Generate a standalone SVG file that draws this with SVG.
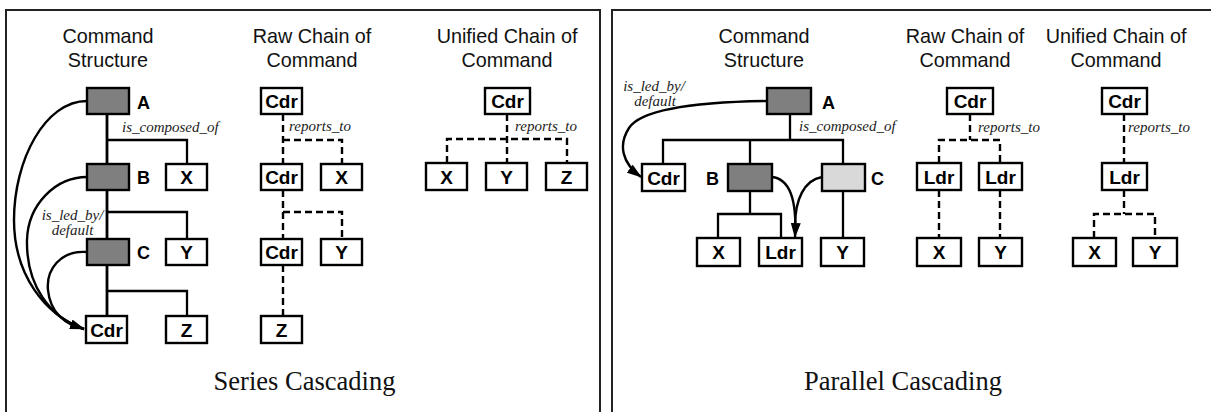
<svg xmlns="http://www.w3.org/2000/svg" width="1211" height="412" viewBox="0 0 1211 412">
<style>
.frame{fill:none;stroke:#222;stroke-width:2}
.box{fill:#fff;stroke:#000;stroke-width:2.4}
.dark{fill:#7f7f7f;stroke:#000;stroke-width:2.4}
.light{fill:#d9d9d9;stroke:#000;stroke-width:2.4}
.bl{font-family:"Liberation Sans",Arial,sans-serif;font-weight:bold;font-size:19px;text-anchor:middle;fill:#000}
.lbl{font-family:"Liberation Sans",Arial,sans-serif;font-weight:bold;font-size:18px;fill:#000}
.title{font-family:"Liberation Sans",Arial,sans-serif;font-size:19.8px;text-anchor:middle;fill:#111}
.cap{font-family:"Liberation Serif","Times New Roman",serif;font-size:26.5px;text-anchor:middle;fill:#111}
.it{font-family:"Liberation Serif","Times New Roman",serif;font-style:italic;font-size:15px;fill:#222}
.itc{font-family:"Liberation Serif","Times New Roman",serif;font-style:italic;font-size:15px;fill:#222;text-anchor:middle}
.ln{fill:none;stroke:#000;stroke-width:2.3}
.thk{fill:none;stroke:#000;stroke-width:2.8}
.dsh{fill:none;stroke:#000;stroke-width:2.4;stroke-dasharray:7,4}
.crv{fill:none;stroke:#000;stroke-width:2.4}
</style>
<defs>
<marker id="arr" markerWidth="15" markerHeight="10" refX="14" refY="5" orient="auto" markerUnits="userSpaceOnUse">
<path d="M0,0 L15,5 L0,10 Z" fill="#000"/>
</marker>
</defs>
<rect width="1211" height="412" fill="#fff"/>

<g id="frames">
<path class="frame" d="M6,413 V10 H600 V413"/>
<path class="frame" d="M612,413 V10 H1213"/>
</g>

<g id="titles">
<text class="title" x="108" y="43">Command</text>
<text class="title" x="108" y="67">Structure</text>
<text class="title" x="312" y="43">Raw Chain of</text>
<text class="title" x="312" y="67">Command</text>
<text class="title" x="507" y="43">Unified Chain of</text>
<text class="title" x="507" y="67">Command</text>
<text class="title" x="764" y="43">Command</text>
<text class="title" x="764" y="67">Structure</text>
<text class="title" x="965" y="43">Raw Chain of</text>
<text class="title" x="965" y="67">Command</text>
<text class="title" x="1116" y="43">Unified Chain of</text>
<text class="title" x="1116" y="67">Command</text>
<text class="cap" x="304.5" y="390">Series Cascading</text>
<text class="cap" x="903" y="390">Parallel Cascading</text>
</g>

<g id="connectors">
<path class="thk" d="M107,114 V164 M107,190 V239 M107,265 V316"/>
<path class="ln" d="M107,140 H187 V164 M107,212 H187 V239 M107,291 H187 V316"/>
<path class="crv" d="M87,101 C45,101 14,160 14,220 C14,275 45,315 84,329" marker-end="url(#arr)"/>
<path class="crv" d="M87,177 C55,177 28,205 27,240 C26,285 50,318 84,329"/>
<path class="crv" d="M87,252 C60,250 46,270 48,290 C50,312 65,325 84,329"/>
<path class="dsh" d="M283,114 V164 M283,140 H342 V164 M283,190 V239 M283,212 H342 V239 M283,265 V316"/>
<path class="dsh" d="M507,114 V163 M447,163 V139 H567 V163"/>
<path class="ln" d="M790,114 V140 M663,164 V140 H843 V164 M750,140 V164 M750,191 V214 M718,238 V214 H781 V238 M843,191 V238"/>
<path class="crv" d="M767,101 C700,102 642,108 629,128 C618,145 622,163 641,177" marker-end="url(#arr)"/>
<path class="crv" d="M772,177 C790,179 797,200 795,237" marker-end="url(#arr)"/>
<path class="crv" d="M822,177 C804,180 795,200 795,226"/>
<path class="dsh" d="M970,114 V140 M939,163 V140 H1000 V163 M939,190 V238 M1000,190 V238"/>
<path class="dsh" d="M1124,114 V163 M1124,190 V214 M1094,238 V214 H1155 V238"/>
</g>

<g id="connector-labels">
<text class="it" x="122" y="132">is_composed_of</text>
<text class="itc" x="72.5" y="220">is_led_by/</text>
<text class="itc" x="72.5" y="235">default</text>
<text class="it" x="289" y="131">reports_to</text>
<text class="it" x="515" y="131">reports_to</text>
<text class="it" x="799" y="131">is_composed_of</text>
<text class="itc" x="654" y="91">is_led_by/</text>
<text class="itc" x="655" y="106">default</text>
<text class="it" x="978" y="132">reports_to</text>
<text class="it" x="1128" y="132">reports_to</text>
</g>

<g id="L-A"><rect class="dark" x="87" y="88" width="42" height="26"/><text class="lbl" x="137" y="109">A</text></g>
<g id="L-B"><rect class="dark" x="87" y="164" width="42" height="26"/><text class="lbl" x="137" y="184">B</text></g>
<g id="L-C"><rect class="dark" x="87" y="239" width="42" height="26"/><text class="lbl" x="137" y="259">C</text></g>
<g id="L-X"><rect class="box" x="166" y="164" width="41" height="26"/><text class="bl" x="186.5" y="184">X</text></g>
<g id="L-Y"><rect class="box" x="166" y="239" width="41" height="26"/><text class="bl" x="186.5" y="259">Y</text></g>
<g id="L-Cdr"><rect class="box" x="86" y="316" width="41" height="27"/><text class="bl" x="106.5" y="336.5">Cdr</text></g>
<g id="L-Z"><rect class="box" x="166" y="316" width="41" height="27"/><text class="bl" x="186.5" y="336.5">Z</text></g>

<g id="LR-Cdr1"><rect class="box" x="261" y="88" width="41" height="26"/><text class="bl" x="281.5" y="108">Cdr</text></g>
<g id="LR-Cdr2"><rect class="box" x="261" y="164" width="41" height="26"/><text class="bl" x="281.5" y="184">Cdr</text></g>
<g id="LR-X"><rect class="box" x="321" y="164" width="41" height="26"/><text class="bl" x="341.5" y="184">X</text></g>
<g id="LR-Cdr3"><rect class="box" x="261" y="239" width="41" height="26"/><text class="bl" x="281.5" y="259">Cdr</text></g>
<g id="LR-Y"><rect class="box" x="321" y="239" width="41" height="26"/><text class="bl" x="341.5" y="259">Y</text></g>
<g id="LR-Z"><rect class="box" x="261" y="316" width="41" height="27"/><text class="bl" x="281.5" y="336.5">Z</text></g>

<g id="LU-Cdr"><rect class="box" x="485" y="88" width="45" height="26"/><text class="bl" x="507.5" y="108">Cdr</text></g>
<g id="LU-X"><rect class="box" x="426" y="163" width="41" height="27"/><text class="bl" x="446.5" y="183.5">X</text></g>
<g id="LU-Y"><rect class="box" x="486" y="163" width="41" height="27"/><text class="bl" x="506.5" y="183.5">Y</text></g>
<g id="LU-Z"><rect class="box" x="546" y="163" width="41" height="27"/><text class="bl" x="566.5" y="183.5">Z</text></g>

<g id="R-A"><rect class="dark" x="767" y="88" width="44" height="26"/><text class="lbl" x="822" y="109">A</text></g>
<g id="R-Cdr"><rect class="box" x="642" y="164" width="43" height="27"/><text class="bl" x="663.5" y="184.5">Cdr</text></g>
<g id="R-B"><rect class="dark" x="728" y="164" width="44" height="27"/><text class="lbl" x="706" y="184.5">B</text></g>
<g id="R-C"><rect class="light" x="822" y="164" width="43" height="27"/><text class="lbl" x="871" y="184.5">C</text></g>
<g id="R-X"><rect class="box" x="697" y="238" width="43" height="28"/><text class="bl" x="718.5" y="259">X</text></g>
<g id="R-Ldr"><rect class="box" x="759" y="238" width="43" height="28"/><text class="bl" x="780.5" y="259">Ldr</text></g>
<g id="R-Y"><rect class="box" x="821" y="238" width="43" height="28"/><text class="bl" x="842.5" y="259">Y</text></g>

<g id="RR-Cdr"><rect class="box" x="947" y="88" width="46" height="26"/><text class="bl" x="970" y="108">Cdr</text></g>
<g id="RR-Ldr1"><rect class="box" x="917" y="163" width="44" height="27"/><text class="bl" x="939" y="183.5">Ldr</text></g>
<g id="RR-Ldr2"><rect class="box" x="979" y="163" width="43" height="27"/><text class="bl" x="1000.5" y="183.5">Ldr</text></g>
<g id="RR-X"><rect class="box" x="917" y="238" width="44" height="28"/><text class="bl" x="939" y="259">X</text></g>
<g id="RR-Y"><rect class="box" x="979" y="238" width="43" height="28"/><text class="bl" x="1000.5" y="259">Y</text></g>

<g id="RU-Cdr"><rect class="box" x="1102" y="88" width="45" height="26"/><text class="bl" x="1124.5" y="108">Cdr</text></g>
<g id="RU-Ldr"><rect class="box" x="1102" y="163" width="45" height="27"/><text class="bl" x="1124.5" y="183.5">Ldr</text></g>
<g id="RU-X"><rect class="box" x="1073" y="238" width="43" height="28"/><text class="bl" x="1094.5" y="259">X</text></g>
<g id="RU-Y"><rect class="box" x="1133" y="238" width="44" height="28"/><text class="bl" x="1155" y="259">Y</text></g>
</svg>
